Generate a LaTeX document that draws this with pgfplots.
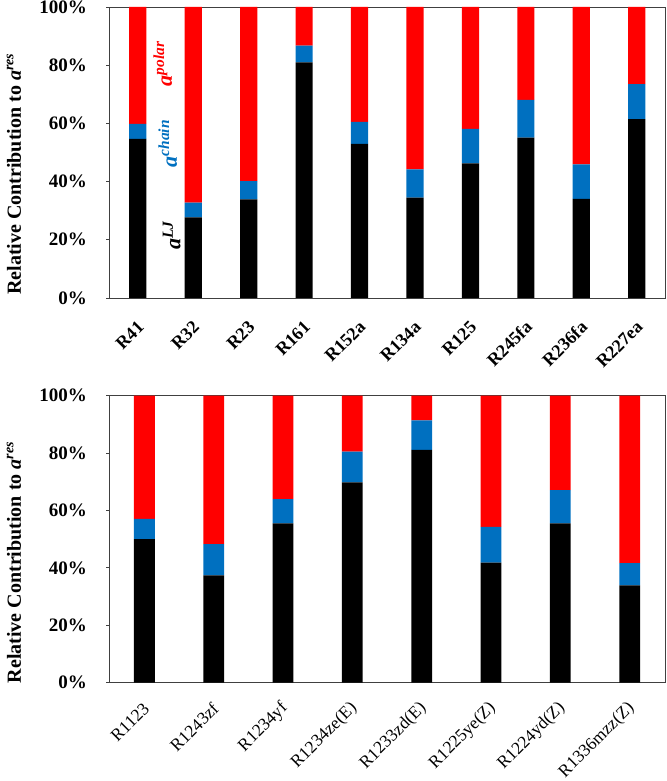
\documentclass[border=0pt]{standalone}
\usepackage{fontspec}
\setmainfont{Liberation Serif}
\usepackage{pgfplots}
\usepackage{pgfplotstable}
\pgfplotsset{compat=1.18}
\definecolor{cred}{RGB}{255,0,0}
\definecolor{cblue}{RGB}{0,112,192}

\pgfplotstableread{
x lj ch po
0 54.7 5.1 40.2
1 27.7 5.1 67.2
2 33.9 6.3 59.8
3 81.0 5.7 13.3
4 53.0 7.5 39.5
5 34.5 9.7 55.8
6 46.3 11.8 41.9
7 55.1 13.0 31.9
8 34.1 11.8 54.1
9 61.5 12.0 26.5
}\topdata

\pgfplotstableread{
x lj ch po
0 50.0 7.1 42.9
1 37.4 10.9 51.7
2 55.5 8.5 36.0
3 69.8 10.7 19.5
4 81.1 10.3 8.6
5 41.8 12.5 45.7
6 55.5 11.6 32.9
7 33.9 7.8 58.3
}\botdata

\pgfplotsset{
  mybase/.style={
    scale only axis, width=556pt,
    ybar stacked, ymin=0, ymax=100,
    ytick={0,20,40,60,80,100},
    yticklabels={0\%,20\%,40\%,60\%,80\%,100\%},
    tick align=outside, major tick length=3pt,
    ytick pos=left,
    xtick pos=bottom,
    major x tick style={draw=none},
    major y tick style={black!75, line width=0.8pt},
    axis line style={black!75, line width=0.9pt},
    yticklabel style={font=\fontsize{19}{19}\selectfont\bfseries, anchor=east, inner sep=0pt, xshift=-19pt},
    ylabel={Relative Contribution to \textit{a}\textsuperscript{\textit{res}}},
    ylabel style={font=\fontsize{20}{20}\selectfont\bfseries, anchor=center},
  }
}

\begin{document}
\begin{tikzpicture}
\useasboundingbox (0pt,0pt) rectangle (666pt,781pt);
\begin{axis}[mybase,
  at={(109pt,483pt)}, anchor=south west, height=291pt,
  xmin=-0.52, xmax=9.51, bar width=0.31,
  xtick={0,1,2,3,4,5,6,7,8,9},
  xticklabels={R41,R32,R23,R161,R152a,R134a,R125,R245fa,R236fa,R227ea},
  xticklabel style={yshift=-23pt, xshift=3pt, rotate=45, anchor=east, inner sep=0pt, font=\fontsize{18}{18}\selectfont\bfseries},
  ylabel style={at={(axis description cs:-0.171,0.426)}},
]
\addplot[fill=black, draw=none] table[x=x,y=lj]{\topdata};
\addplot[fill=cblue, draw=none] table[x=x,y=ch]{\topdata};
\addplot[fill=cred, draw=none] table[x=x,y=po]{\topdata};
\node[rotate=90, text=cred, font=\fontsize{22}{22}\selectfont\bfseries\itshape] at (axis cs:0.45,80.5) {a\textsuperscript{polar}};
\node[rotate=90, text=cblue, font=\fontsize{22}{22}\selectfont\bfseries\itshape] at (axis cs:0.54,53.1) {a\textsuperscript{chain}};
\node[rotate=90, text=black, font=\fontsize{22}{22}\selectfont\bfseries\itshape] at (axis cs:0.61,21.6) {a\textsuperscript{LJ}};
\end{axis}

\begin{axis}[mybase,
  at={(109pt,98.3pt)}, anchor=south west, height=287pt,
  xmin=-0.51, xmax=7.51, bar width=0.30,
  xtick={0,1,2,3,4,5,6,7},
  xticklabels={R1123,R1243zf,R1234yf,R1234ze(E),R1233zd(E),R1225ye(Z),R1224yd(Z),R1336mzz(Z)},
  xticklabel style={yshift=-20pt, xshift=2pt, rotate=45, anchor=east, inner sep=0pt, font=\fontsize{17.5}{17.5}\selectfont},
  ylabel style={at={(axis description cs:-0.171,0.419)}},
]
\addplot[fill=black, draw=none] table[x=x,y=lj]{\botdata};
\addplot[fill=cblue, draw=none] table[x=x,y=ch]{\botdata};
\addplot[fill=cred, draw=none] table[x=x,y=po]{\botdata};
\end{axis}
\end{tikzpicture}
\end{document}
